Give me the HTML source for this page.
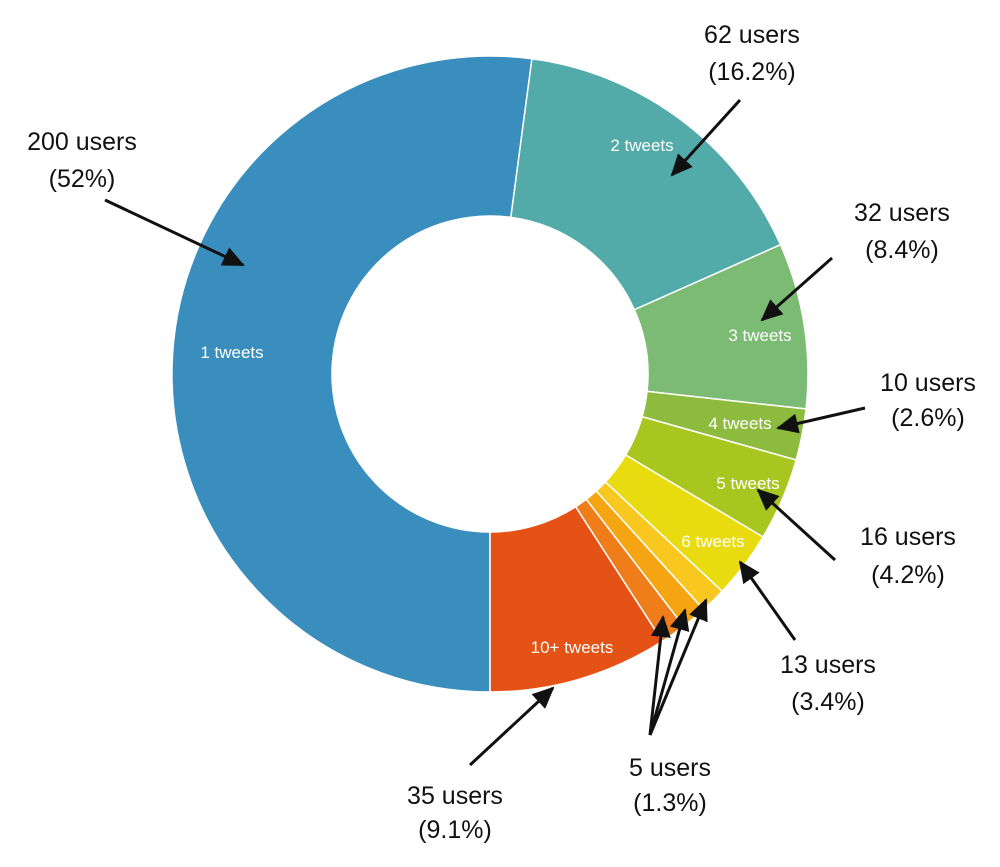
<!DOCTYPE html>
<html><head><meta charset="utf-8"><style>
body{margin:0;background:#fff}
svg text{font-family:"Liberation Sans",sans-serif}
.o{font-size:25px;fill:#111;text-anchor:middle}
.i{font-size:17px;fill:#fff;text-anchor:middle}
</style></head><body>
<svg id="s" width="1000" height="862" viewBox="0 0 1000 862">
<defs>
<marker id="b" markerWidth="22" markerHeight="20" refX="20" refY="10" orient="auto" markerUnits="userSpaceOnUse" viewBox="0 0 22 20"><path d="M0,0L22,10L0,20z" fill="#111"/></marker></defs>
<g id="pie"></g>
<g stroke="#111" stroke-width="3" marker-end="url(#b)">
<line x1="105" y1="200" x2="243" y2="265"/>
<line x1="740" y1="100" x2="672" y2="175"/>
<line x1="832" y1="258" x2="762" y2="320"/>
<line x1="865" y1="408" x2="778" y2="428"/>
<line x1="835" y1="560" x2="758" y2="490"/>
<line x1="795" y1="640" x2="740" y2="562"/>
<line x1="650" y1="735" x2="663" y2="617"/>
<line x1="650" y1="735" x2="685" y2="610"/>
<line x1="650" y1="735" x2="706" y2="600"/>
<line x1="470" y1="765" x2="553" y2="688"/>
</g>
<text class="i" x="232" y="358">1 tweets</text>
<text class="i" x="642" y="151">2 tweets</text>
<text class="i" x="760" y="341">3 tweets</text>
<text class="i" x="740" y="429">4 tweets</text>
<text class="i" x="748" y="489">5 tweets</text>
<text class="i" x="713" y="547">6 tweets</text>
<text class="i" x="572" y="653">10+ tweets</text>
<text class="o" x="82" y="150">200 users</text><text class="o" x="82" y="187">(52%)</text>
<text class="o" x="752" y="43">62 users</text><text class="o" x="752" y="80">(16.2%)</text>
<text class="o" x="902" y="221">32 users</text><text class="o" x="902" y="258">(8.4%)</text>
<text class="o" x="928" y="391">10 users</text><text class="o" x="928" y="426">(2.6%)</text>
<text class="o" x="908" y="545">16 users</text><text class="o" x="908" y="583">(4.2%)</text>
<text class="o" x="828" y="673">13 users</text><text class="o" x="828" y="710">(3.4%)</text>
<text class="o" x="670" y="776">5 users</text><text class="o" x="670" y="811">(1.3%)</text>
<text class="o" x="455" y="804">35 users</text><text class="o" x="455" y="838">(9.1%)</text>
</svg>
<script>
var cx=490,cy=374,R=318,r=158;
var v=[52,16.2,8.4,2.6,4.2,3.4,1.3,1.3,1.3,9.1];
var c=["#3a8ebd","#52aaa9","#7cbb74","#8cbb3e","#a9c520","#e8dc10","#f8c820","#f6a512","#ee7d1a","#e55215"];
var tot=v.reduce(function(a,b){return a+b},0),a0=180,g=document.getElementById("pie"),h="";
function p(rad,deg){var t=deg*Math.PI/180;return (cx+rad*Math.sin(t)).toFixed(2)+","+(cy-rad*Math.cos(t)).toFixed(2);}
v.forEach(function(x,i){var a1=a0+x/tot*360,l=(a1-a0)>180?1:0;
h+='<path d="M'+p(R,a0)+'A'+R+','+R+' 0 '+l+' 1 '+p(R,a1)+'L'+p(r,a1)+'A'+r+','+r+' 0 '+l+' 0 '+p(r,a0)+'Z" fill="'+c[i]+'" stroke="#fff" stroke-width="1.5"/>';a0=a1;});
g.innerHTML=h;
</script>
</body></html>
